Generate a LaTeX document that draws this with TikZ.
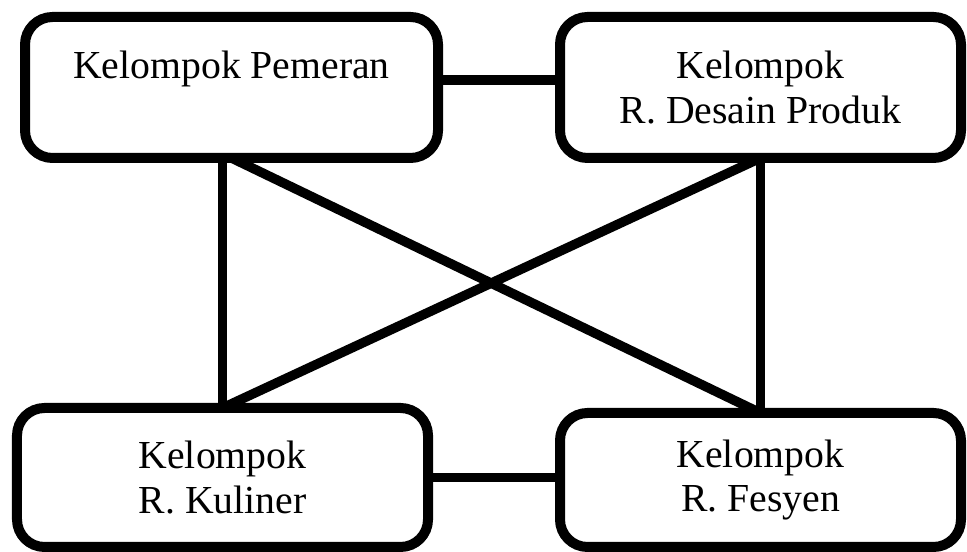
\documentclass[tikz,border=0pt]{standalone}
\usepackage{fontspec}
\setmainfont{Liberation Serif}
\usetikzlibrary{calc}
\tikzset{
  grp/.style = {
    draw=black, fill=white, rounded corners=0.55cm,
    line width=0.2cm, align=center,
    font=\fontsize{22.6}{25.4}\selectfont,
    inner sep=0pt, outer sep=0pt
  },
  lnk/.style = {line width=0.19cm, black}
}

\begin{document}
\begin{tikzpicture}[x=1cm, y=1cm]
  \useasboundingbox (0, 0) rectangle (19.34, 11.04);
  %% Group boxes
  \node[grp, minimum width=8.26cm, minimum height=2.82cm] (pem) at (4.63, 9.29)
    {Kelompok Pemeran\\~};
  \node[grp, minimum width=8.02cm, minimum height=2.82cm] (des) at (15.21, 9.29)
    {Kelompok\\R. Desain Produk};
  \node[grp, minimum width=8.22cm, minimum height=2.78cm] (kul) at (4.45, 1.49)
    {Kelompok\\R. Kuliner};
  \node[grp, minimum width=8.02cm, minimum height=2.68cm] (fes) at (15.21, 1.44)
    {Kelompok\\R. Fesyen};

  %% Horizontal links
  \draw[lnk] ([yshift=0.15cm]pem.east) -- ([yshift=0.15cm]pem.east -| des.west);
  \draw[lnk] (kul.east) -- (kul.east -| fes.west);

  %% Vertical links
  \draw[lnk] (kul.north |- pem.south) -- (kul.north);
  \draw[lnk] (des.south) -- (des.south |- fes.north);

  %% Crossing links
  \draw[lnk] (pem.south) -- (fes.north);
  \draw[lnk] (des.south) -- (kul.north);
\end{tikzpicture}
\end{document}
